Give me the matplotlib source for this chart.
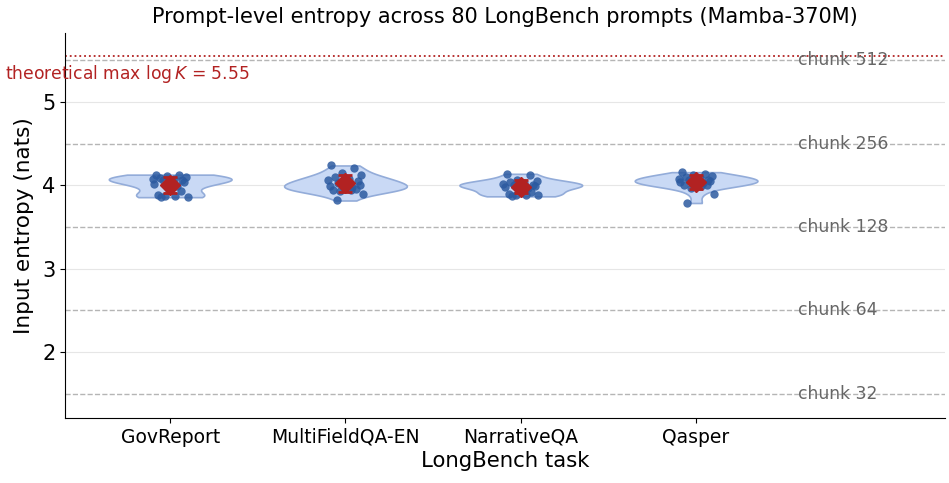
import numpy as np
import matplotlib
matplotlib.use("Agg")
import matplotlib.pyplot as plt

# Prompt-level entropy values (nats), 20 prompts per task
tasks = ["GovReport", "MultiFieldQA-EN", "NarrativeQA", "Qasper"]
gov_report = [4.13, 4.12, 4.11, 4.10, 4.09, 4.08, 4.08, 4.07, 4.06, 4.05,
              4.04, 4.02, 3.99, 3.97, 3.93, 3.88, 3.87, 3.87, 3.86, 3.86]
multifield = [4.24, 4.21, 4.15, 4.12, 4.10, 4.08, 4.06, 4.05, 4.03, 4.02,
              4.00, 3.99, 3.98, 3.97, 3.96, 3.95, 3.94, 3.93, 3.90, 3.82]
narrative = [4.14, 4.13, 4.07, 4.05, 4.04, 4.03, 4.02, 4.01, 4.00, 4.00,
             3.99, 3.98, 3.97, 3.96, 3.92, 3.90, 3.89, 3.88, 3.88, 3.87]
qasper = [4.16, 4.14, 4.12, 4.11, 4.10, 4.09, 4.08, 4.07, 4.06, 4.05,
          4.05, 4.04, 4.03, 4.02, 4.01, 4.00, 3.99, 3.97, 3.90, 3.79]
chunk_sizes = [32, 64, 128, 256, 512]
chunk_levels = [1.5, 2.5, 3.5, 4.5, 5.5]
theoretical_max = 5.55

# fixed horizontal jitter pattern for the dots
jitter = [-0.08, 0.05, -0.02, 0.09, -0.06, 0.02, -0.10, 0.07, -0.04, 0.01,
          0.08, -0.09, 0.04, -0.01, 0.06, -0.07, 0.03, -0.03, 0.10, -0.05]

data = [gov_report, multifield, narrative, qasper]
pos = np.arange(len(tasks))

fig = plt.figure(figsize=(9.49, 4.83), dpi=100)
ax = fig.add_axes([0.0685, 0.1346, 0.9273, 0.7971])

ax.grid(axis="y", color="#e6e6e6", linewidth=0.8)
ax.set_axisbelow(True)

parts = ax.violinplot(data, positions=pos, widths=0.7, showextrema=False)
for body in parts["bodies"]:
    body.set_facecolor("#c9d9f5")
    body.set_edgecolor("#93acd9")
    body.set_linewidth(1.2)
    body.set_alpha(1)

for i, vals in enumerate(data):
    ax.scatter(pos[i] + np.array(jitter[:len(vals)]), vals, s=36,
               color="#2c5aa0", alpha=0.85, zorder=3, linewidths=0)
    ax.errorbar(pos[i], np.mean(vals), yerr=np.std(vals), fmt="D",
                color="#b22222", markersize=10, capsize=5, elinewidth=2,
                capthick=2, zorder=4)

for c, lvl in zip(chunk_sizes, chunk_levels):
    ax.axhline(lvl, color="#b5b5b5", linestyle="--", linewidth=1, zorder=1)
    ax.text(3.58, lvl, f"chunk {c}", color="#666666", fontsize=12.3,
            va="center", ha="left")

ax.axhline(theoretical_max, color="#b22222", linestyle=":", linewidth=1.3)
ax.text(-0.94, 5.47, r"theoretical max $\log K$ = 5.55", color="#b22222",
        fontsize=12.3, va="top", ha="left")

ax.set_xlim(-0.6, 4.42)
ax.set_ylim(1.21, 5.83)
ax.set_xticks(pos)
ax.set_xticklabels(tasks, fontsize=13.5)
ax.set_yticks([2, 3, 4, 5])
ax.tick_params(axis="y", labelsize=15)
ax.set_xlabel("LongBench task", fontsize=15.3, labelpad=3)
ax.set_ylabel("Input entropy (nats)", fontsize=15.5, labelpad=6)
ax.set_title("Prompt-level entropy across 80 LongBench prompts (Mamba-370M)",
             fontsize=15, pad=7)
ax.spines["top"].set_visible(False)
ax.spines["right"].set_visible(False)

fig.savefig("out.png", dpi=100)
